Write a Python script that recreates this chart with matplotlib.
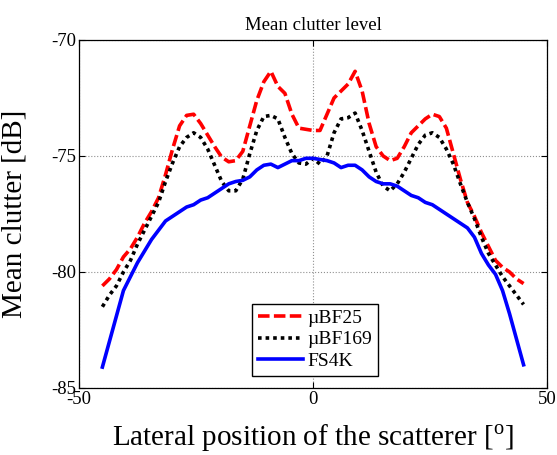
import numpy as np
import matplotlib
matplotlib.use("Agg")
import matplotlib.pyplot as plt

plt.rcParams['font.family'] = ['Liberation Serif', 'DejaVu Serif']
plt.rcParams['mathtext.fontset'] = 'custom'
plt.rcParams['mathtext.rm'] = 'Liberation Serif'
plt.rcParams['axes.unicode_minus'] = False

# lateral position of the scatterer [deg]
lateral_pos = [-45, -43.5, -42, -40.5, -39, -37.5, -36, -34.5, -33, -31.5,
               -30, -28.5, -27, -25.5, -24, -22.5, -21, -19.5, -18, -16.5,
               -15, -13.5, -12, -10.5, -9, -7.5, -6, -4.5, -3, -1.5,
               0, 1.5, 3, 4.5, 6, 7.5, 9, 10.5, 12, 13.5,
               15, 16.5, 18, 19.5, 21, 22.5, 24, 25.5, 27, 28.5,
               30, 31.5, 33, 34.5, 36, 37.5, 39, 40.5, 42, 43.5, 45]

# mean clutter [dB]
ubf25 = [-80.6, -80.3, -79.9, -79.35, -79.0, -78.5, -77.9, -77.4, -76.8, -75.8,
         -74.7, -73.7, -73.25, -73.2, -73.6, -74.1, -74.6, -75.05, -75.25, -75.2,
         -74.8, -73.7, -72.6, -71.8, -71.35, -72.0, -72.3, -73.2, -73.8, -73.85,
         -73.9, -73.9, -73.2, -72.5, -72.2, -71.9, -71.35, -72.2, -73.6, -74.6,
         -75.0, -75.2, -75.1, -74.6, -74.0, -73.7, -73.4, -73.2, -73.3, -73.8,
         -74.9, -76.0, -77.0, -77.6, -78.3, -78.9, -79.5, -79.8, -80.0, -80.3, -80.5]

ubf169 = [-81.5, -81.0, -80.6, -80.0, -79.5, -78.8, -78.2, -77.6, -77.0, -76.1,
          -75.3, -74.6, -74.2, -74.0, -74.2, -74.7, -75.4, -76.1, -76.5, -76.5,
          -76.0, -74.9, -73.9, -73.3, -73.25, -73.4, -74.2, -74.9, -75.3, -75.35,
          -75.1, -75.35, -75.0, -74.0, -73.4, -73.35, -73.15, -73.9, -74.8, -75.7,
          -76.3, -76.5, -76.2, -75.7, -75.1, -74.5, -74.1, -74.0, -74.2, -74.7,
          -75.35, -76.2, -77.0, -77.7, -78.5, -79.2, -79.7, -80.2, -80.6, -81.0, -81.4]

fs4k = [-84.1, -83.0, -81.9, -80.8, -80.2, -79.6, -79.1, -78.6, -78.2, -77.8,
        -77.6, -77.4, -77.2, -77.1, -76.9, -76.8, -76.6, -76.4, -76.2, -76.1,
        -76.05, -75.9, -75.6, -75.4, -75.35, -75.5, -75.35, -75.2, -75.2, -75.1,
        -75.1, -75.15, -75.2, -75.3, -75.5, -75.4, -75.4, -75.6, -75.9, -76.1,
        -76.2, -76.2, -76.3, -76.5, -76.7, -76.8, -77.0, -77.1, -77.3, -77.5,
        -77.7, -77.9, -78.1, -78.5, -79.2, -79.7, -80.1, -80.8, -81.8, -82.9, -84.0]

x_ticks = [-50, 0, 50]
y_ticks = [-85, -80, -75, -70]

fig = plt.figure(figsize=(5.57, 4.55), dpi=100)
ax = fig.add_axes([0.1418, 0.1473, 0.8402, 0.7648])

lw = 2.6
ax.plot(lateral_pos, ubf25, color='red', linewidth=lw, dashes=(3.2, 1.2),
        dash_capstyle='butt', label=u'\u00b5BF25')
ax.plot(lateral_pos, ubf169, color='black', linewidth=lw, dashes=(1, 1.1),
        dash_capstyle='butt', label=u'\u00b5BF169')
ax.plot(lateral_pos, fs4k, color='blue', linewidth=lw, label='FS4K')

ax.set_xlim(-50, 50)
ax.set_ylim(-85, -70)
ax.set_xticks(x_ticks)
ax.set_yticks(y_ticks)
ax.tick_params(direction='in', length=4, width=0.8, labelsize=13.5,
               top=True, right=True, pad=2)
ax.grid(True, color='#909090', linestyle=':', linewidth=0.8)
for sp in ax.spines.values():
    sp.set_linewidth(0.9)

ax.set_title('Mean clutter level', fontsize=13.5, pad=7)
ax.set_xlabel(r'Lateral position of the scatterer [$^{\mathrm{o}}$]', fontsize=21)
ax.set_ylabel('Mean clutter [dB]', fontsize=21)
ax.xaxis.set_label_coords(0.5, -0.1)
ax.yaxis.set_label_coords(-0.11, 0.5)

leg = ax.legend(loc='lower left', bbox_to_anchor=(0.37, 0.035), fontsize=14,
                handlelength=2.3, handletextpad=0.25, labelspacing=0.2,
                borderpad=0.3, borderaxespad=0, fancybox=False, framealpha=1,
                edgecolor='black')
leg.get_frame().set_linewidth(1.0)

fig.savefig('out.png', dpi=100)
